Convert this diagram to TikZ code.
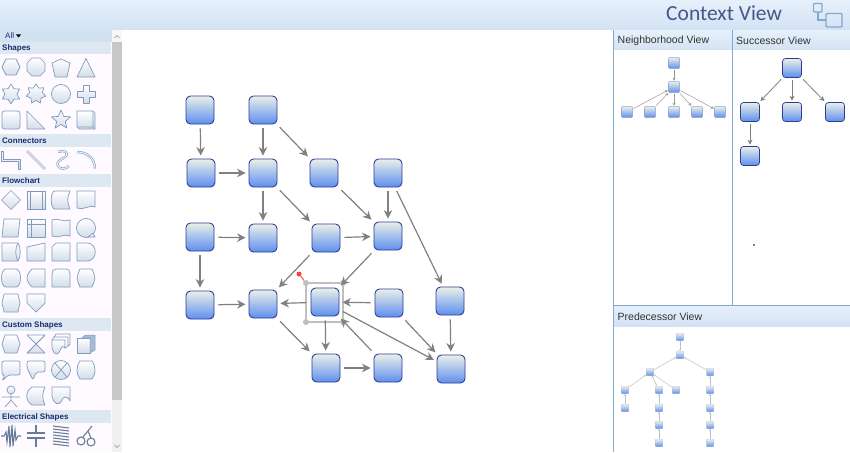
\documentclass[tikz,border=0pt]{standalone}
\usepackage{fontspec}
\setmainfont{Liberation Sans}
\newfontfamily\titlefont{Carlito}
\usepackage{xcolor}
\usetikzlibrary{arrows.meta}

\definecolor{barTop}{HTML}{E6F0FB}
\definecolor{barBot}{HTML}{D3E2F3}
\definecolor{headBar}{HTML}{DEE8F2}
\definecolor{palBack}{HTML}{FFFAFF}
\definecolor{navyText}{HTML}{1C2A6E}
\definecolor{palEdge}{HTML}{7F9CC0}
\definecolor{nodeEdge}{HTML}{2F3C96}
\definecolor{nodeTop}{HTML}{EAF0E8}
\definecolor{nodeMid}{HTML}{BCD0EE}
\definecolor{nodeBot}{HTML}{5E8EEE}
\definecolor{splitLine}{HTML}{7FAAD2}

\tikzset{
  shapenode/.style={rounded corners=4.5pt,draw=nodeEdge,line width=0.9pt,top color=nodeTop,middle color=nodeMid,bottom color=nodeBot,minimum size=28pt,inner sep=0pt},
  succnode/.style={shapenode,rounded corners=3pt,line width=0.7pt,minimum size=19pt},
  neighnode/.style={shapenode,rounded corners=1pt,draw=nodeEdge!50,line width=0.5pt,minimum size=11pt},
  prednode/.style={shapenode,rounded corners=0.8pt,draw=nodeEdge!35,line width=0.4pt,minimum size=7.5pt},
  conn/.style={draw=black!50,line width=1.2pt,-{Stealth[length=8.5pt,width=8.5pt]},shorten >=3pt,shorten <=4pt},
  succconn/.style={draw=black!50,line width=0.8pt,-{Stealth[length=5pt,width=5pt]},shorten >=1.5pt,shorten <=2pt},
  neighconn/.style={draw=black!40,line width=0.5pt,-{Stealth[length=3pt,width=3pt]},shorten >=0.5pt,shorten <=1pt},
  predconn/.style={draw=black!25,line width=0.5pt,-{Stealth[length=2pt,width=2pt]}},
  handle/.style={circle,fill=black!25,minimum size=6pt,inner sep=0pt},
  rotdot/.style={circle,fill=red!75,minimum size=5pt,inner sep=0pt},
  palshape/.style={draw=palEdge,line width=0.7pt,top color=white,bottom color=palEdge!35,line join=round},
  palline/.style={draw=palEdge,line width=0.7pt},
  palthick/.style={draw=palEdge,line width=0.6pt,double=palEdge!15,double distance=1.1pt},
  palcoil/.style={draw=palEdge!80!black,line width=1.1pt},
  headtext/.style={font=\fontsize{8}{8}\selectfont\bfseries,text=navyText,anchor=west,inner sep=0pt},
  viewtext/.style={font=\fontsize{10.5}{10.5}\selectfont,text=black!80,anchor=west,inner sep=0pt}
}

% one icon of the palette, drawn round its middle
\newcommand{\palicon}[4][palshape]{\path[#1,shift={(#2,#3)}] #4;}
\newcommand{\palstar}[5]{\path[palshape,shift={(#1,#2)}] plot[samples at={0,...,\numexpr2*#3-1\relax},variable=\t]
  ({(mod(\t,2)==0?#4:#5)*sin(\t*180/#3)},{-(mod(\t,2)==0?#4:#5)*cos(\t*180/#3)}) -- cycle;}
\newcommand{\palhead}[3]{\fill[headBar] (0,#1) rectangle (111,#2); \node[headtext] (#3) at (2,{(#1+#2)/2+0.5}) {#3};}

\begin{document}
\begin{tikzpicture}[x=1pt,y=-1pt]
\useasboundingbox (0,0) rectangle (850,452);
\fill[white] (0,0) rectangle (850,452);

% top bar
\fill[top color=barTop,bottom color=barBot] (0,0) rectangle (850,30);
\node[font=\titlefont\fontsize{21.5}{21.5}\selectfont,text=navyText!80!white,anchor=west,inner sep=0pt] (title) at (666,13) {Context View};
\draw[splitLine,line width=1.4pt,rounded corners=1pt] (813.5,3.5) rectangle (822,12);
\draw[splitLine,line width=1.4pt,rounded corners=1pt] (826,13.5) rectangle (842,27);
\draw[splitLine,line width=1.4pt] (818,12) |- (826,20);

% palette
\fill[palBack] (0,30) rectangle (122,452);
\fill[barBot] (0,30) rectangle (112,42);
\node[font=\fontsize{8}{8}\selectfont,text=navyText,anchor=west,inner sep=0pt] (all) at (5,36) {All};
\fill[black] (16,34.5) -- (21,34.5) -- (18.5,37.5) -- cycle;
\fill[black!3] (112,30) rectangle (122,42);
\fill[black!22] (112,42) rectangle (122,400);
\fill[black!6] (112,400) rectangle (122,452);
\draw[black!45,line width=0.5pt] (114.5,38) -- (117,35.5) -- (119.5,38);
\draw[black!45,line width=0.5pt] (114.5,445) -- (117,447.5) -- (119.5,445);
\palhead{42}{54}{Shapes}
\palhead{134}{147}{Connectors}
\palhead{174}{187}{Flowchart}
\palhead{318}{331}{Custom Shapes}
\palhead{410}{423}{Electrical Shapes}

% Shapes
\palicon{11}{67}{(-9,0) -- (-5,-8) -- (5,-8) -- (9,0) -- (5,8) -- (-5,8) -- cycle}
\palicon{36}{67}{(-9,-4) -- (-4,-9) -- (4,-9) -- (9,-4) -- (9,4) -- (4,9) -- (-4,9) -- (-9,4) -- cycle}
\palicon{61}{68}{(0,-9) -- (9,-5) -- (6,9) -- (-6,9) -- (-9,-5) -- cycle}
\palicon{86}{68}{(0,-9.5) -- (9,9) -- (-9,9) -- cycle}
\palstar{11}{94}{6}{10}{6}
\palstar{36}{94}{7}{10}{6.5}
\palicon{61}{94}{(0,0) circle[radius=9.5]}
\palicon{86}{94}{(-3,-9) -- (3,-9) -- (3,-3) -- (9,-3) -- (9,3) -- (3,3) -- (3,9) -- (-3,9) -- (-3,3) -- (-9,3) -- (-9,-3) -- (-3,-3) -- cycle}
\palicon{11}{120}{[rounded corners=2.5pt] (-9,-9) rectangle (9,9)}
\palicon{36}{120}{(-9,-9) -- (9,9) -- (-9,9) -- cycle}
\palstar{61}{120}{5}{10}{4.5}
\palicon{86}{120}{(-9,-9) -- (7,-9) -- (9,-7) -- (9,9) -- (-7,9) -- (-9,7) -- cycle}
\palicon[palline]{86}{120}{(-9,7) -- (7,7) -- (7,-9) (7,7) -- (9,9)}

% Connectors
\palicon{11}{160}{(-9.5,-9) -- (-7.5,-9) -- (-7.5,-1) -- (9.5,-1) -- (9.5,9) -- (7.5,9) -- (7.5,1.5) -- (-9.5,1.5) -- cycle}
\palicon[palthick]{36}{160}{(-9,-9) -- (9,9)}
\palicon[palthick]{61}{160}{(-3,-8) .. controls (3,-11) and (9,-7) .. (4,-3) .. controls (-1,0) and (-5,2) .. (-3,6) .. controls (-1,10) and (5,9) .. (8,6)}
\palicon[palthick]{86}{160}{(-9,-8) .. controls (1,-8) and (9,-2) .. (9,9)}

% Flowchart
\palicon{11}{200}{(-9.5,0) -- (0,-9.5) -- (9.5,0) -- (0,9.5) -- cycle}
\palicon{36}{200}{(-9,-9) rectangle (9,9)}
\palicon[palline]{36}{200}{(-6,-9) -- (-6,9) (6,-9) -- (6,9)}
\palicon{61}{200}{(-6,-9) -- (9,-9) .. controls (6,-3) and (6,3) .. (9,9) -- (-6,9) .. controls (-11,9) and (-11,-9) .. (-6,-9) -- cycle}
\palicon{86}{200}{(-9,-9) -- (9,-9) -- (9,7) .. controls (4,4) and (-3,11) .. (-9,8) -- cycle}
\palicon{11}{228}{(-7,-9) -- (9,-9) -- (7,9) -- (-9,9) -- cycle}
\palicon{36}{228}{(-9,-9) rectangle (9,9)}
\palicon[palline]{36}{228}{(-5,-9) -- (-5,9) (-9,-4) -- (9,-4)}
\palicon{61}{228}{(-9,-8) .. controls (-4,-11) and (3,-5) .. (9,-8) -- (9,8) .. controls (4,5) and (-3,11) .. (-9,8) -- cycle}
\palicon{86}{228}{(0,0) circle[radius=9.5]}
\palicon{86}{228}{(2,9) -- (9,9) -- (7,5) -- cycle}
\palicon{11}{252}{(-9,-9) -- (7,-9) .. controls (10,-5) and (10,5) .. (7,9) -- (-9,9) -- cycle}
\palicon[palline]{11}{252}{(7,-9) .. controls (4,-5) and (4,5) .. (7,9)}
\palicon{36}{252}{(-9,-5) -- (9,-9) -- (9,9) -- (-9,9) -- cycle}
\palicon{61}{252}{(-5,-9) -- (9,-9) -- (9,9) -- (-9,9) -- (-9,-5) -- cycle}
\palicon{86}{252}{(-9,-9) -- (1,-9) .. controls (12,-9) and (12,9) .. (1,9) -- (-9,9) -- cycle}
\palicon{11}{278}{(-5,-9) -- (5,-9) .. controls (11,-9) and (11,9) .. (5,9) -- (-5,9) .. controls (-11,9) and (-11,-9) .. (-5,-9) -- cycle}
\palicon{36}{278}{(-4,-9) -- (9,-9) -- (9,9) -- (-4,9) .. controls (-7,6) and (-9,3) .. (-9,0) .. controls (-9,-3) and (-7,-6) .. (-4,-9) -- cycle}
\palicon{61}{278}{(-5,-9) -- (5,-9) .. controls (8,-9) and (9,-7) .. (9,-4) -- (9,9) -- (-9,9) -- (-9,-4) .. controls (-9,-7) and (-8,-9) .. (-5,-9) -- cycle}
\palicon{86}{278}{(-6,-9) -- (6,-9) .. controls (7,-6) and (9,-3) .. (9,0) .. controls (9,3) and (7,6) .. (6,9) -- (-6,9) .. controls (-7,6) and (-9,3) .. (-9,0) .. controls (-9,-3) and (-7,-6) .. (-6,-9) -- cycle}
\palicon{11}{303}{(-7,-9) -- (7,-9) -- (9,0) -- (7,9) -- (-7,9) -- (-9,0) -- cycle}
\palicon{36}{303}{(-9,-9) -- (9,-9) -- (9,0) -- (0,9) -- (-9,0) -- cycle}

% Custom Shapes
\palicon{11}{344}{(-6,-9) -- (6,-9) -- (9,0) -- (6,9) -- (-6,9) -- (-9,0) -- cycle}
\palicon{36}{344}{(-9,-9) -- (9,-9) -- (-9,9) -- (9,9) -- cycle}
\palicon[palline]{36}{344}{(-9,-9) -- (9,9) (9,-9) -- (-9,9)}
\palicon{61}{344}{(-9,-4) -- (4,-4) -- (4,4) .. controls (0,-1) and (-1,10) .. (-4,10) .. controls (-7,10) and (-9,6) .. (-9,3) -- cycle}
\palicon[palline]{61}{344}{(-9,-4) -- (-7,-7) -- (7,-7) -- (7,2) -- (4,4) (-7,-7) -- (-5,-10) -- (9,-10) -- (9,0) -- (7,2)}
\palicon{86}{344}{(-9,-6) -- (4,-6) -- (4,9) -- (-9,9) -- cycle}
\path[fill=palEdge!70,draw=palEdge,line width=0.5pt] (82,338) -- (85,335) -- (95,335) -- (95,350) -- (90,353) -- (90,338) -- cycle;
\palicon{11}{370}{[rounded corners=2pt] (-9,-9) -- (9,-9) -- (9,5) -- (-3,5) -- (-9,11) -- (-6,5) -- (-9,5) -- cycle}
\palicon{36}{370}{[rounded corners=2pt] (-9,-9) -- (9,-9) -- (9,2) -- (0,2) -- (-3,10) -- (-7,2) -- (-9,-2) -- cycle}
\palicon{61}{370}{(0,0) circle[radius=9.5]}
\palicon[palline]{61}{370}{(-6,-7) -- (6,7) (6,-7) -- (-6,7)}
\palicon{86}{370}{(-6,-9) -- (6,-9) .. controls (10,-4) and (10,4) .. (6,9) -- (-6,9) .. controls (-10,4) and (-10,-4) .. (-6,-9) -- cycle}
\palicon{11}{396}{(0,-6) circle[radius=4]}
\palicon[palline]{11}{396}{(0,-2) -- (0,4) -- (-6,11) (0,4) -- (6,11) (-9,1) -- (9,1)}
\palicon{36}{396}{(-4,-9) -- (9,-9) .. controls (6,-3) and (6,3) .. (9,9) -- (-4,9) .. controls (-11,5) and (-11,-5) .. (-4,-9) -- cycle}
\palicon{61}{396}{(-9,-9) -- (9,-9) -- (9,5) .. controls (6,-1) and (2,0) .. (0,6) .. controls (-2,9) and (-7,9) .. (-9,0) -- cycle}

% Electrical Shapes
\palicon[palcoil]{11}{436}{(-10,0) -- (-7,0) -- (-5,-4) -- (-4,6) -- (-2,-10) -- (-1,11) -- (1,-11) -- (2,10) -- (4,-6) -- (5,4) -- (7,0) -- (10,0)}
\palicon[palcoil]{36}{436}{(-9,-3) -- (9,-3) (-9,2) -- (9,2) (0,-11) -- (0,-3) (0,2) -- (0,11)}
\palicon[palcoil]{61}{436}{(-8,-10) -- (8,-8) (-8,-7) -- (8,-5) (-8,-4) -- (8,-2) (-8,-1) -- (8,1) (-8,2) -- (8,4) (-8,5) -- (8,7) (-8,8) -- (8,10)}
\palicon[palcoil]{86}{436}{(-5,5) circle[radius=4] (5,6) circle[radius=4] (-3,1) -- (6,-10) (5,2) -- (2,-5)}

% right hand views
\fill[top color=barTop,bottom color=barBot] (614,31) rectangle (850,50);
\fill[top color=barTop,bottom color=barBot] (614,306) rectangle (850,326);
\draw[splitLine,line width=1pt] (613.5,30) -- (613.5,452);
\draw[splitLine,line width=0.8pt] (732.5,30) -- (732.5,305);
\draw[splitLine,line width=0.8pt] (613.5,305) -- (850,305);
\node[viewtext] (neighlabel) at (617.5,41) {Neighborhood View};
\node[viewtext] (succlabel) at (736,41) {Successor View};
\node[viewtext] (predlabel) at (617.5,317) {Predecessor View};
\fill[black] (754,245) circle(0.8);

% main drawing
\foreach \name/\x/\y in {a/200/110,b/263/110,c/201/173,d/263/173,e/324/173,f/388/173,
  g/200/237,h/263/238,i/326/238,j/388/236,k/200/305,l/263/304,m/325/302,n/389/303,o/450/301,
  p/326/368,q/388/368,r/451/369}
  \node[shapenode] (\name) at (\x,\y) {};

% selection round m
\node[handle] (hTL) at (306,283) {};
\node[handle] (hTR) at (343,283) {};
\node[handle] (hBL) at (306,322) {};
\node[handle] (hBR) at (343,322) {};
\node[rotdot] (rot) at (299,274) {};
\draw[black!25,line width=1.2pt] (hTL) -- (hTR) -- (hBR) -- (hBL) -- (hTL);
\draw[red!75,line width=0.9pt] (rot) -- (hTL);

\foreach \from/\to in {a/c,b/d,b/e,c/d,d/h,d/i,e/j,f/j,f/o,g/h,i/j,g/k,k/l,i/l,j/m,m/l,n/m,
  m/p,l/p,m/r,q/m,p/q,n/r,o/r}
  \draw[conn] (\from) -- (\to);

% Neighborhood View
\foreach \name/\x/\y in {na/674/63,nb/674/87,nc/627/112,nd/650/112,ne/674/112,nf/697/112,ng/720/112}
  \node[neighnode] (\name) at (\x,\y) {};
\foreach \from/\to in {na/nb,nc/nb,nd/nb,nb/ne,nb/nf,nb/ng}
  \draw[neighconn] (\from) -- (\to);

% Successor View
\foreach \name/\x/\y in {sa/792/68,sb/750/112,sc/792/112,sd/835/112,se/750/156}
  \node[succnode] (\name) at (\x,\y) {};
\foreach \from/\to in {sa/sb,sa/sc,sa/sd,sb/se}
  \draw[succconn] (\from) -- (\to);

% Predecessor View
\foreach \name/\x/\y in {pa/680/337,pb/680/355,pc/650/372,pd/710/372,pe/625/390,pf/659/390,
  pg/676/390,ph/710/390,pi/625/408,pj/659/408,pk/710/408,pl/659/425,pm/710/425,pn/659/443,po/710/443}
  \node[prednode] (\name) at (\x,\y) {};
\foreach \from/\to in {pa/pb,pc/pb,pd/pb,pe/pc,pf/pc,pg/pc,ph/pd,pi/pe,pj/pf,pl/pj,pn/pl,pk/ph,pm/pk,po/pm}
  \draw[predconn] (\from) -- (\to);

\end{tikzpicture}
\end{document}
